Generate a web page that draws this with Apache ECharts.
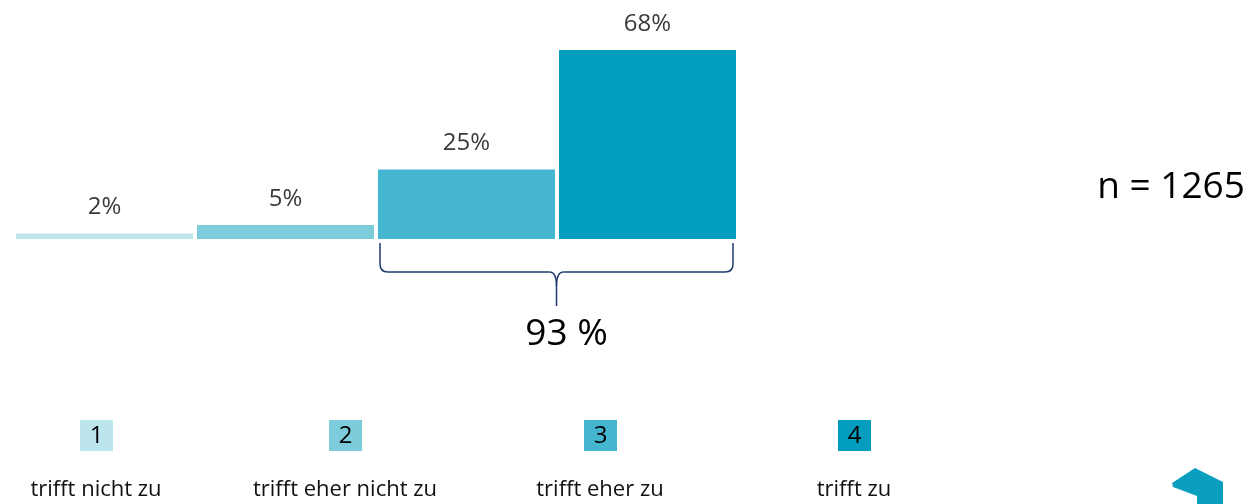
<!DOCTYPE html>
<html>
<head>
<meta charset="utf-8">
<title>Zustimmung</title>
<script src="https://cdn.jsdelivr.net/npm/echarts@6/dist/echarts.min.js"></script>
<style>
  html, body { margin: 0; padding: 0; background: #fff; }
  #chart { width: 1253px; height: 504px; }
</style>
</head>
<body>
<div id="chart"></div>
<script>
// answer categories (legend texts) and their codes
const categories = ['trifft nicht zu', 'trifft eher nicht zu', 'trifft eher zu', 'trifft zu']
const codes = ['1', '2', '3', '4']
// share of answers in percent
const values = [2, 5, 25, 68]
// sum of the two agreeing answers, shown under the brace
const agreeShare = 93
const sampleSize = 1265

const barColors = ['#BDE5EE', '#7DCCDB', '#44B6D0', '#039EBF']
const FONT = 'Open Sans'

const chart = echarts.init(document.getElementById('chart'))

chart.setOption({
  animation: false,
  grid: {
    left: 14,
    width: 724,
    top: 50,
    bottom: 265
  },
  xAxis: {
    type: 'category',
    data: categories,
    show: false
  },
  yAxis: {
    type: 'value',
    min: 0,
    max: 68,
    show: false
  },
  series: [{
    type: 'bar',
    barWidth: 177,
    data: values.map((v, i) => ({
      value: v,
      itemStyle: { color: barColors[i] }
    })),
    label: {
      show: true,
      position: 'top',
      distance: 14,
      formatter: '{c}%',
      fontFamily: FONT,
      fontSize: 24,
      color: '#3a3a3a'
    }
  }]
})

// legend squares and texts (free layout below the plot)
const legendX = [96, 345, 600, 854]
const graphics = []
categories.forEach((name, i) => {
  graphics.push({
    type: 'rect',
    shape: { x: legendX[i] - 16, y: 420, width: 33, height: 31 },
    style: { fill: barColors[i] }
  })
  graphics.push({
    type: 'text',
    x: legendX[i] + 0.5,
    y: 436,
    style: {
      text: codes[i],
      fontFamily: FONT,
      fontSize: 24,
      fill: '#000',
      align: 'center',
      verticalAlign: 'middle'
    }
  })
  graphics.push({
    type: 'text',
    x: legendX[i],
    y: 490,
    style: {
      text: name,
      fontFamily: FONT,
      fontSize: 22,
      fill: '#111',
      align: 'center',
      verticalAlign: 'middle'
    }
  })
})

// brace over the two agreeing categories, placed from the axis scale
const half = 177 / 2
const x1 = chart.convertToPixel({ xAxisIndex: 0 }, categories[2]) - half + 2
const x2 = chart.convertToPixel({ xAxisIndex: 0 }, categories[3]) + half - 3
const xm = (x1 + x2) / 2
const yTop = chart.convertToPixel({ yAxisIndex: 0 }, 0) + 4
const yMid = yTop + 29
const yEnd = yMid + 34
const braceStyle = { fill: null, stroke: '#1F3A6E', lineWidth: 1.5 }

function braceHalf (xe, dir) {
  return [
    { type: 'line', shape: { x1: xe, y1: yTop, x2: xe, y2: yMid - 8 }, style: braceStyle },
    { type: 'bezierCurve', shape: { x1: xe, y1: yMid - 8, cpx1: xe, cpy1: yMid, x2: xe + dir * 8, y2: yMid }, style: braceStyle },
    { type: 'line', shape: { x1: xe + dir * 8, y1: yMid, x2: xm - dir * 7, y2: yMid }, style: braceStyle },
    { type: 'bezierCurve', shape: { x1: xm - dir * 7, y1: yMid, cpx1: xm, cpy1: yMid, x2: xm, y2: yMid + 14 }, style: braceStyle }
  ]
}
graphics.push(...braceHalf(x1, 1), ...braceHalf(x2, -1))
graphics.push({
  type: 'line',
  shape: { x1: xm, y1: yMid + 14, x2: xm, y2: yEnd },
  style: braceStyle
})
graphics.push({
  type: 'text',
  x: xm + 10,
  y: 334,
  style: {
    text: agreeShare + ' %',
    fontFamily: FONT,
    fontSize: 37,
    fill: '#000',
    align: 'center',
    verticalAlign: 'middle'
  }
})
graphics.push({
  type: 'text',
  x: 1171,
  y: 187,
  style: {
    text: 'n = ' + sampleSize,
    fontFamily: FONT,
    fontSize: 37,
    fill: '#000',
    align: 'center',
    verticalAlign: 'middle'
  }
})
// corner logo fragment
graphics.push({
  type: 'polygon',
  shape: {
    points: [[1172, 483], [1195, 468], [1223, 482], [1223, 504], [1197, 504], [1197, 496], [1173, 487]]
  },
  style: { fill: '#0A9EBF' }
})

chart.setOption({ graphic: graphics })
</script>
</body>
</html>
